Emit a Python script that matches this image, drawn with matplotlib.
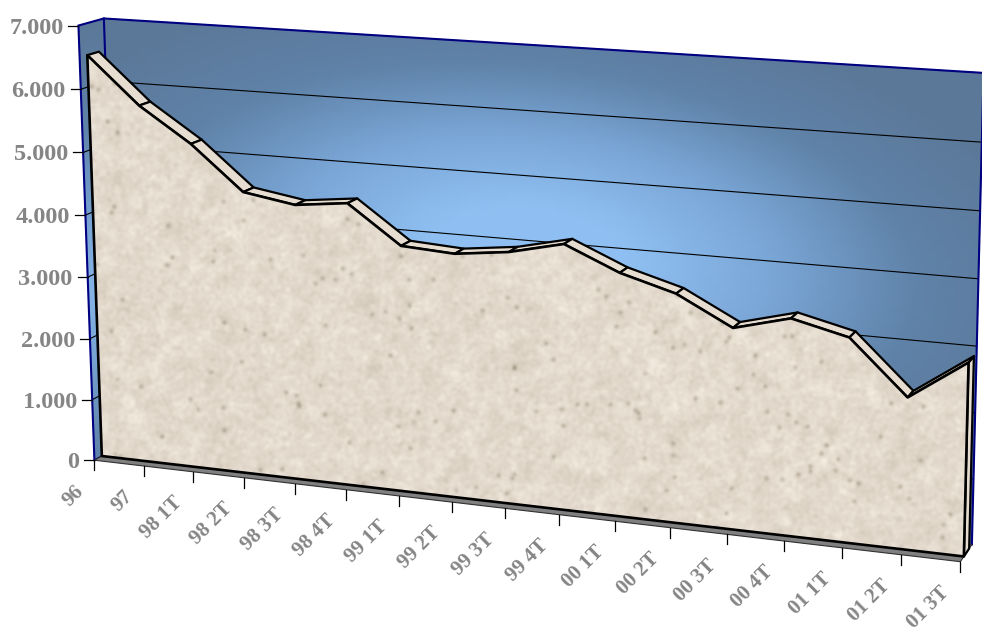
import numpy as np
import matplotlib
matplotlib.use("Agg")
import matplotlib.pyplot as plt
from matplotlib.colors import LinearSegmentedColormap
from matplotlib.patches import Polygon

# Chart data
categories = ["96", "97", "98 1T", "98 2T", "98 3T", "98 4T", "99 1T", "99 2T", "99 3T",
              "99 4T", "00 1T", "00 2T", "00 3T", "00 4T", "01 1T", "01 2T", "01 3T"]
values = [6500, 5760, 5215, 4520, 4385, 4480, 3885, 3835, 3935,
          4130, 3765, 3525, 3085, 3310, 3105, 2295, 2900]
value_ticks = [0, 1000, 2000, 3000, 4000, 5000, 6000, 7000]
value_labels = ["0", "1.000", "2.000", "3.000", "4.000", "5.000", "6.000", "7.000"]

# Camera for the 3D box: (category, value, depth) with its screen position
N = len(categories) - 1
V = 7000.0
DEPTH_FRONT, DEPTH_BACK = 0.30, 0.76
box_world = np.array([
    (0, 0, 0), (0, V, 0), (0, V, 1), (0, 0, 1),
    (N, V, 1), (N, 0, 1), (N, 0, 0), (4, 0, 0), (15, 0, 0),
    (N, 2900, DEPTH_FRONT), (N, 0, DEPTH_FRONT),
], float)
box_screen = np.array([
    (94.5, 459), (78, 27), (104, 17), (119, 448),
    (982, 74), (972, 544), (958, 563), (294.7, 483), (901, 556),
    (973, 360), (963, 556),
], float)


def fit_camera(world, screen):
    rows, rhs = [], []
    for (a, b, c), (x, y) in zip(world, screen):
        rows.append([a, b, c, 1, 0, 0, 0, 0, -x * a, -x * b, -x * c])
        rhs.append(x)
        rows.append([0, 0, 0, 0, a, b, c, 1, -y * a, -y * b, -y * c])
        rhs.append(y)
    sol = np.linalg.lstsq(np.array(rows), np.array(rhs), rcond=None)[0]
    return np.append(sol, 1.0).reshape(3, 4)


CAM = fit_camera(box_world, box_screen)


def project(cat, val, depth):
    cat, val, depth = np.broadcast_arrays(cat, val, depth)
    h = np.stack([cat, val, depth, np.ones_like(cat, dtype=float)], axis=-1)
    p = h @ CAM.T
    return p[..., 0] / p[..., 2], p[..., 1] / p[..., 2]


def pts(*triples):
    return np.array([[float(c) for c in project(*t)] for t in triples])


GREY = "#858585"
NAVY = "#000080"
FONT = ["Liberation Serif", "DejaVu Serif"]

fig = plt.figure(figsize=(9.82, 6.30), dpi=100)
ax = fig.add_axes([0, 0, 1, 1])

wall_cmap = LinearSegmentedColormap.from_list(
    "wall", ["#5B7898", "#5F82A8", "#7AA6D6", "#8FBFF2"])


def shaded_wall(cu, cv, cd, tfunc):
    X, Y = project(cu, cv, cd)
    ax.pcolormesh(X, Y, tfunc(X, Y), cmap=wall_cmap, vmin=0, vmax=1,
                  shading="gouraud", zorder=1, rasterized=True)


# Back wall with a soft glow in the middle
gu, gv = np.meshgrid(np.linspace(0, N, 90), np.linspace(0, V, 60))


def back_glow(x, y):
    dx = (x - 530) / 440
    dy = (y - 255 - 0.08 * (x - 530)) / 215
    return np.clip(1.22 - np.hypot(dx, dy), 0, 1)


shaded_wall(gu, gv, np.ones_like(gu), back_glow)

# Left wall, brightest about two thirds of the way down
lv, ld = np.meshgrid(np.linspace(0, V, 40), np.linspace(0, 1, 6))


def left_glow(x, y):
    return np.clip(1 - np.abs(y - 290) / 270, 0, 1) * 0.85


shaded_wall(np.zeros_like(lv), lv, ld, left_glow)

# Gridlines across both walls
for v in value_ticks[1:-1]:
    ax.plot(*pts((0, v, 0), (0, v, 1), (N, v, 1)).T, color="black", lw=0.8, zorder=2)

# Wall outline
ax.plot(*pts((0, 0, 0), (0, V, 0), (0, V, 1), (N, V, 1), (N, 0, 1)).T,
        color=NAVY, lw=1.5, zorder=3, solid_joinstyle="miter")
ax.plot(*pts((0, V, 1), (0, 0, 1)).T, color=NAVY, lw=1.5, zorder=3)
ax.plot(*pts((0, 0, 0), (0, 0, 1)).T, color=NAVY, lw=1.2, zorder=3)

# Floor
floor = pts((0, 0, 0), (N, 0, 0), (N, 0, 1), (0, 0, 1))
ax.add_patch(Polygon(floor, closed=True, fc="#808080", ec="#303030", lw=0.8, zorder=4))

CREAM = "#E6DDD0"
idx = np.arange(len(values))

# Right end cap of the area
cap = pts((N, 0, DEPTH_FRONT), (N, values[-1], DEPTH_FRONT),
          (N, values[-1], DEPTH_BACK), (N, 0, DEPTH_BACK))
ax.add_patch(Polygon(cap, closed=True, fc=CREAM, ec="black", lw=1.6, zorder=5, joinstyle="round"))

# Top facets of the area
for i in idx[:-1]:
    facet = pts((i, values[i], DEPTH_FRONT), (i + 1, values[i + 1], DEPTH_FRONT),
                (i + 1, values[i + 1], DEPTH_BACK), (i, values[i], DEPTH_BACK))
    ax.add_patch(Polygon(facet, closed=True, fc=CREAM, ec="black", lw=1.6, zorder=5, joinstyle="round"))

# Stone texture for the front face
H, W = 630, 982


def frac(a):
    return a - np.floor(a)


def pixel_hash(seed):
    cc, rr = np.meshgrid(np.arange(W) + seed, np.arange(H) + 2.0 * seed)
    a = np.sin(cc * 12.9898 + rr * 78.233) * 43758.5453
    b = np.sin(frac(a) * 91.17 + rr * 0.731 + cc * 1.313) * 24634.6345
    return frac(b)


def soften(field, sigma):
    fy = np.fft.fftfreq(H)[:, None]
    fx = np.fft.rfftfreq(W)[None, :]
    kernel = np.exp(-2 * (np.pi * sigma) ** 2 * (fx ** 2 + fy ** 2))
    return np.fft.irfft2(np.fft.rfft2(field) * kernel, s=(H, W))


def normalised(field):
    return (field - field.mean()) / field.std()


fine = normalised(soften(pixel_hash(17.0), 1.6))
coarse = normalised(soften(pixel_hash(311.0), 5.0))
specks = soften((pixel_hash(733.0) > 0.9993).astype(float), 1.8)
specks = specks / specks.max()
shade = fine * 3.2 + coarse * 3.0 - specks * 55
base = np.array([227, 218, 205], float)
stone = np.clip(base[None, None, :] + shade[..., None] * np.array([1.0, 1.05, 1.15]), 0, 255) / 255

front_verts = np.vstack([
    pts(*[(i, values[i], DEPTH_FRONT) for i in idx]),
    pts((N, 0, DEPTH_FRONT), (0, 0, DEPTH_FRONT)),
])
front_clip = Polygon(front_verts, closed=True, transform=ax.transData, fc="none", ec="none")
ax.add_patch(front_clip)
img = ax.imshow(stone, extent=(0, W, H, 0), aspect="auto", zorder=6, interpolation="bilinear")
img.set_clip_path(front_clip)
ax.add_patch(Polygon(front_verts, closed=True, fc="none", ec="black", lw=1.9, zorder=7, joinstyle="round"))

# Value axis ticks and labels
for v, lab in zip(value_ticks, value_labels):
    x, y = project(0, v, 0)
    x, y = float(x), float(y)
    ax.plot([x - 10, x], [y, y], color="black", lw=0.9, zorder=8)
    ax.text(x - 15, y, lab, ha="right", va="center_baseline", family=FONT,
            fontweight="bold", fontsize=17.5, color=GREY, zorder=8)

# Category axis ticks and slanted labels
for i, lab in zip(idx, categories):
    x, y = project(i, 0, 0)
    x, y = float(x), float(y)
    ax.plot([x, x], [y, y + 10], color="black", lw=0.9, zorder=8)
    ax.text(x - 21, y + 21, lab, ha="right", va="top", rotation=45, rotation_mode="anchor",
            family=FONT, fontweight="bold", fontsize=15, color=GREY, zorder=8)

ax.set_xlim(0, W)
ax.set_ylim(H, 0)
ax.axis("off")
fig.savefig("out.png", dpi=100, facecolor="white")
